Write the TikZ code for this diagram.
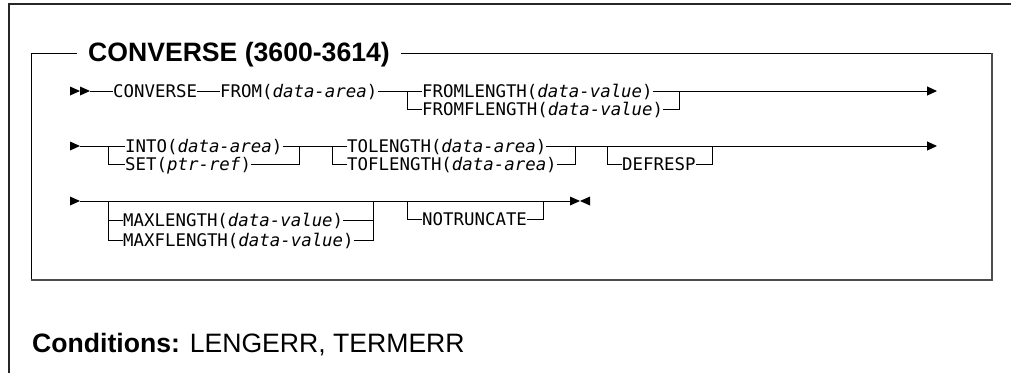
\documentclass[tikz,border=0pt]{standalone}
\usepackage{fontspec}
\usetikzlibrary{arrows.meta}
\newfontfamily\dmono{DejaVu Sans Mono}
\newfontfamily\arialf{Liberation Sans}
\tikzset{
  syn/.style={font=\dmono\fontsize{17.4}{20}\selectfont, inner sep=0pt, anchor=base west},
  ln/.style={line width=1pt, black},
  tipf/.style={fill=black},
  endarrow/.style={ln, -{Triangle[length=10pt,width=9pt]}},
  outerfr/.style={line width=1.3pt, black!85},
  boxtl/.style={line width=1pt, black},
  boxbr/.style={line width=2pt, black!70},
  head/.style={font=\arialf\bfseries\fontsize{26.6}{30}\selectfont, inner sep=0pt, anchor=base west},
  cond/.style={font=\arialf\fontsize{26.6}{30}\selectfont, inner sep=0pt, anchor=base west},
}
\begin{document}
\begin{tikzpicture}[x=1pt,y=-1pt]
\useasboundingbox (0,0) rectangle (1011,373);
% frames
\draw[outerfr] (1011,4) -- (9,4) -- (9,373);
\node[head] (title) at (88,61.5) {CONVERSE (3600-3614)};
\path ([xshift=-11pt]title.west) coordinate (tg1);
\path ([xshift=11pt]title.east) coordinate (tg2);
\coordinate (tl) at (31,53);
\coordinate (tr) at (992,53);
\coordinate (br) at (992,280);
\coordinate (bl) at (31,280);
\draw[boxtl] (tg1 |- tl) -- (tl) -- (bl);
\draw[boxtl] (tg2 |- tr) -- (tr);
\draw[boxbr] (tr) -- (br) -- (bl);
\node[cond] (conds) at (32,352.5) {\textbf{Conditions:} LENGERR, TERMERR};

% ---------- row 1
\fill[tipf] (70,86.5) -- (80,91) -- (70,95.5) -- cycle;
\fill[tipf] (80,86.5) -- (90,91) -- (80,95.5) -- cycle;
\coordinate (r1s) at (90,91);
\node[syn] (conv) at (113,97.4) {CONVERSE};
\node[syn] (from) at (220,97.4) {FROM(\textit{data-area})};
\coordinate (j1) at (407,91);
\coordinate (j1b) at (407,109);
\node[syn] (fl) at (422,97.4) {FROMLENGTH(\textit{data-value})};
\node[syn] (ffl) at (422,115.4) {FROMFLENGTH(\textit{data-value})};
\coordinate (j2) at (679,91);
\coordinate (j2b) at (679,109);
\coordinate (e1) at (937,91);
\draw[ln] (r1s) -- (conv.west |- r1s);
\draw[ln] (conv.east |- r1s) -- (from.west |- r1s);
\draw[ln] (from.east |- r1s) -- (fl.west |- r1s);
\draw[ln] (j1) -- (j1b) -- (ffl.west |- j1b);
\draw[ln] (fl.east |- r1s) -- (j2);
\draw[ln] (ffl.east |- j1b) -- (j2b) -- (j2);
\draw[endarrow] (j2) -- (e1);

% ---------- row 2
\fill[tipf] (70,141.5) -- (80,146) -- (70,150.5) -- cycle;
\coordinate (r2s) at (80,146);
\coordinate (j3) at (108,146);
\coordinate (j3b) at (108,164);
\node[syn] (into) at (125,152.4) {INTO(\textit{data-area})};
\node[syn] (set) at (125,170.4) {SET(\textit{ptr-ref})};
\coordinate (j4) at (299,146);
\coordinate (j4b) at (299,164);
\coordinate (j5) at (332,146);
\coordinate (j5b) at (332,164);
\node[syn] (tol) at (347,152.4) {TOLENGTH(\textit{data-area})};
\node[syn] (tofl) at (347,170.4) {TOFLENGTH(\textit{data-area})};
\coordinate (j6) at (575,146);
\coordinate (j6b) at (575,164);
\coordinate (j7) at (607,146);
\coordinate (j7b) at (607,164);
\node[syn] (defr) at (622,170.4) {DEFRESP};
\coordinate (j8) at (712,146);
\coordinate (j8b) at (712,164);
\coordinate (e2) at (937,146);
\draw[ln] (r2s) -- (into.west |- r2s);
\draw[ln] (j3) -- (j3b) -- (set.west |- j3b);
\draw[ln] (into.east |- r2s) -- (tol.west |- r2s);
\draw[ln] (set.east |- j3b) -- (j4b) -- (j4);
\draw[ln] (j5) -- (j5b) -- (tofl.west |- j5b);
\draw[endarrow] (tol.east |- r2s) -- (e2);
\draw[ln] (tofl.east |- j5b) -- (j6b) -- (j6);
\draw[ln] (j7) -- (j7b) -- (defr.west |- j7b);
\draw[ln] (defr.east |- j7b) -- (j8b) -- (j8);

% ---------- row 3
\fill[tipf] (70,196.5) -- (80,201) -- (70,205.5) -- cycle;
\coordinate (r3s) at (80,201);
\coordinate (j9) at (108,201);
\coordinate (j9a) at (108,220);
\coordinate (j9b) at (108,240);
\node[syn] (maxl) at (123,226.4) {MAXLENGTH(\textit{data-value})};
\node[syn] (maxfl) at (123,246.4) {MAXFLENGTH(\textit{data-value})};
\coordinate (j10) at (373,201);
\coordinate (j10a) at (373,220);
\coordinate (j10b) at (373,240);
\coordinate (j11) at (407,201);
\coordinate (j11a) at (407,219);
\node[syn] (notr) at (422,225.4) {NOTRUNCATE};
\coordinate (j12) at (543,201);
\coordinate (j12a) at (543,219);
\coordinate (e3) at (570,201);
\draw[ln] (r3s) -- (e3);
\draw[ln] (j9) -- (j9b) -- (maxfl.west |- j9b);
\draw[ln] (j9a) -- (maxl.west |- j9a);
\draw[ln] (maxl.east |- j9a) -- (j10a);
\draw[ln] (maxfl.east |- j9b) -- (j10b) -- (j10);
\draw[ln] (j11) -- (j11a) -- (notr.west |- j11a);
\draw[ln] (notr.east |- j11a) -- (j12a) -- (j12);
\fill[tipf] (570,196.5) -- (580,201) -- (570,205.5) -- cycle;
\fill[tipf] (590,196.5) -- (580,201) -- (590,205.5) -- cycle;
\end{tikzpicture}
\end{document}
